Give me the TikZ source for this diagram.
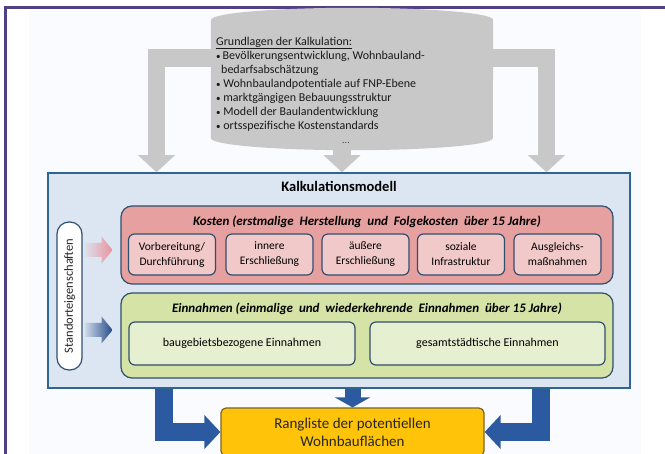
\documentclass[tikz,border=0pt]{standalone}
\usepackage{fontspec}
\setmainfont{Carlito}
\usetikzlibrary{arrows.meta,calc}
\definecolor{framepurple}{HTML}{514084}
\definecolor{pagebg}{HTML}{FAFBFE}
\definecolor{basisgray}{HTML}{C8C8C8}
\definecolor{kalkfill}{HTML}{DCE6F2}
\definecolor{kalkline}{HTML}{2F6690}
\definecolor{boxline}{HTML}{2E4F6E}
\definecolor{kostenfill}{HTML}{E6A0A0}
\definecolor{kostensub}{HTML}{F1C9C9}
\definecolor{einnfill}{HTML}{D5E3A6}
\definecolor{einnsub}{HTML}{E7EFD1}
\definecolor{pinkarrow}{HTML}{E8939E}
\definecolor{bluearrowc}{HTML}{2C5AA0}
\definecolor{rangfill}{HTML}{FFC40A}
\definecolor{rangline}{HTML}{7A6520}
\newcommand{\ulhead}[1]{\setbox0\hbox{#1}\rlap{\rule[-2.8pt]{\wd0}{0.8pt}}\box0}
\tikzset{
    kalkbox/.style = {draw=kalkline, fill=kalkfill, line width=1.5pt, inner sep=0pt},
    groupbox/.style = {draw=boxline, line width=1.2pt, rounded corners=11pt,
        minimum width=492, inner sep=0pt},
    subbox/.style = {draw=boxline, line width=1.2pt, rounded corners=6pt,
        minimum height=41, align=center, inner sep=1pt,
        font=\fontsize{11.5}{15}\selectfont, text=black},
    grouptitle/.style = {font=\fontsize{13}{15}\selectfont\bfseries\itshape, text=black},
    grayarrow/.style = {draw=basisgray, line width=17.5pt, line join=miter,
        -{Triangle[width=36pt,length=17pt]}},
    bluearrow/.style = {draw=bluearrowc, line width=17.5pt, line join=miter,
        -{Triangle[width=33pt,length=16pt]}},
    rangbox/.style = {draw=rangline, fill=rangfill, line width=1.2pt, rounded corners=5pt,
        minimum width=263, minimum height=48, align=center,
        font=\fontsize{15}{18}\selectfont, text=black!85}
}

\begin{document}
\begin{tikzpicture}[x=1pt,y=-1pt]
\useasboundingbox (0,0) rectangle (665,454);
\fill[pagebg] (29,10) rectangle (641,454);
\draw[framepurple, line width=2.7pt] (5.5,470) -- (5.5,7.5) -- (680,7.5);

\node[minimum width=282, minimum height=118, inner sep=0pt] (basis) at (352,79) {};
\node[kalkbox, minimum width=582, minimum height=215] (kalk) at (339,280.5) {};

\draw[grayarrow] (basis.center |- 0,58) -| (kalk.north -| 156.5,0);
\draw[grayarrow] (basis.center |- 0,58) -| (kalk.north -| 546.5,0);
\draw[grayarrow] (basis.south -| 342,0) -- (kalk.north -| 342,0);

\fill[basisgray] (basis.north west) -- (basis.south west)
    arc[start angle=180, end angle=360, x radius=141pt, y radius=12pt]
    -- (basis.north east)
    arc[start angle=0, end angle=180, x radius=141pt, y radius=12pt] -- cycle;
\node[anchor=north west, align=left, inner sep=0pt, text=black!90,
    font=\fontsize{12}{14}\selectfont] (grund) at (216,37) {%
    \ulhead{Grundlagen der Kalkulation:}\\
    {\small\textbullet}\,Bevölkerungsentwicklung, Wohnbauland-\\
    \hspace*{5pt}bedarfsabschätzung\\
    {\small\textbullet}\ Wohnbaulandpotentiale auf FNP-Ebene\\
    {\small\textbullet}\ marktgängigen Bebauungsstruktur\\
    {\small\textbullet}\ Modell der Baulandentwicklung\\
    {\small\textbullet}\ ortsspezifische Kostenstandards};
\node[font=\fontsize{10}{12}\selectfont, text=black!75] (dots) at (346,143) {...};

\node[font=\fontsize{14.5}{16}\selectfont\bfseries, text=black] (kalktitle) at (339,186) {Kalkulationsmodell};

\node[draw=boxline, fill=white, line width=1.2pt, rounded corners=12pt, rotate=90,
    minimum width=148, minimum height=25, inner sep=0pt,
    font=\fontsize{12.5}{14}\selectfont, text=black!85] (standort) at (69.5,296) {Standorteigenschaften};

\node[groupbox, fill=kostenfill, minimum height=78] (kosten) at (367,245) {};
\node[grouptitle] (kostentitle) at (367,222) {Kosten (erstmalige\ \ Herstellung\ \ und\ \ Folgekosten\ \ über 15 Jahre)};
\node[subbox, fill=kostensub, minimum width=87] (vorb) at (172,254.5) {Vorbereitung/\\Durchführung};
\node[subbox, fill=kostensub, minimum width=87] (innere) at (269.5,254.5) {innere\\Erschließung};
\node[subbox, fill=kostensub, minimum width=87] (aeussere) at (365.5,254.5) {äußere\\Erschließung};
\node[subbox, fill=kostensub, minimum width=87] (soziale) at (461,254.5) {soziale\\Infrastruktur};
\node[subbox, fill=kostensub, minimum width=87] (ausgl) at (557.5,254.5) {Ausgleichs-\\maßnahmen};

\node[groupbox, fill=einnfill, minimum height=85] (einn) at (367,335.5) {};
\node[grouptitle] (einntitle) at (367,309) {Einnahmen (einmalige\ \ und\ \ wiederkehrende\ \ Einnahmen\ \ über 15 Jahre)};
\node[subbox, fill=einnsub, minimum width=226, minimum height=43, font=\fontsize{12}{15}\selectfont] (baugeb) at (242,343.5) {baugebietsbezogene Einnahmen};
\node[subbox, fill=einnsub, minimum width=235, minimum height=43, font=\fontsize{12}{15}\selectfont] (gesamt) at (487.5,343.5) {gesamtstädtische Einnahmen};

\shade[left color=kalkfill, right color=pinkarrow] (standort.south |- 0,250) ++(3,-7)
    -- ++(16,0) -- ++(0,-6.5) -- ++(11,13.5) -- ++(-11,13.5) -- ++(0,-6.5) -- ++(-16,0) -- cycle;
\shade[left color=kalkfill, right color=bluearrowc!85!black] (standort.south |- 0,330) ++(3,-7)
    -- ++(16,0) -- ++(0,-6.5) -- ++(11,13.5) -- ++(-11,13.5) -- ++(0,-6.5) -- ++(-16,0) -- cycle;

\node[rangbox] (rang) at (352.5,432) {Rangliste der potentiellen\\Wohnbauflächen};

\draw[bluearrow] (kalk.south -| 164,0) |- (rang.west);
\draw[bluearrow] (kalk.south -| 541,0) |- (rang.east);
\draw[bluearrow, line width=16pt, -{Triangle[width=35pt,length=10pt]}] (kalk.south -| rang.north) -- (rang.north);
\end{tikzpicture}
\end{document}
